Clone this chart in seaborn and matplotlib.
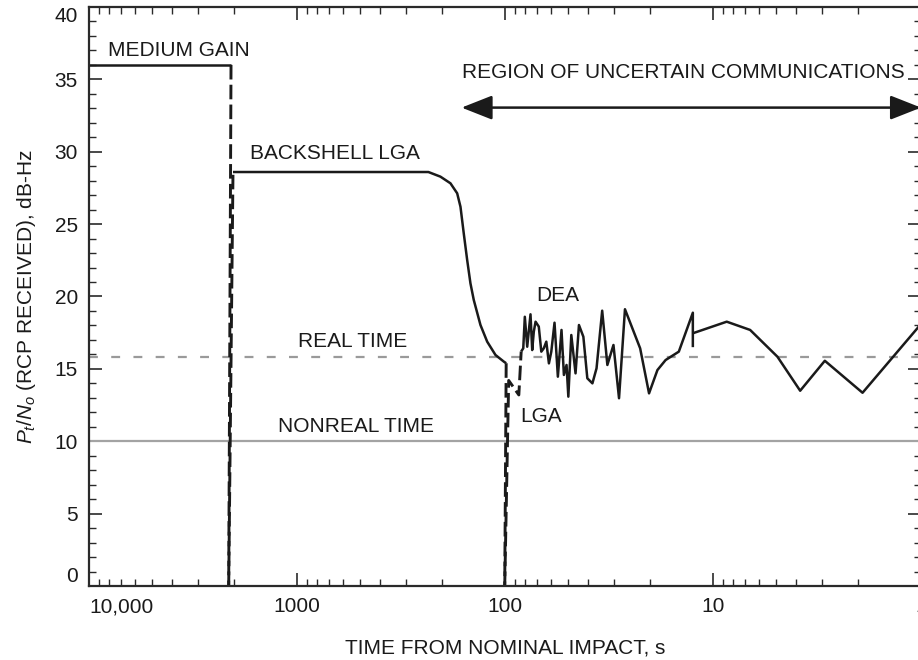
import matplotlib
matplotlib.use("Agg")
import matplotlib.pyplot as plt
import seaborn as sns
import pandas as pd
from matplotlib.ticker import MultipleLocator, LogLocator, NullFormatter
from matplotlib.patches import FancyArrowPatch

# ---------------- data ----------------
# Medium gain antenna
medium_t = [10000, 2076]
medium_v = [36.0, 36.0]
medium_drop_t = [2076, 2130]
medium_drop_v = [36.0, 0.0]

# Backshell LGA
backshell_rise_t = [2130, 2031]
backshell_rise_v = [0.0, 28.6]
backshell_t = [2031, 233.5, 204.4, 182.9, 169.8, 163.7, 157.9, 152.0, 146.6,
               141.3, 131.2, 121.8, 111.1, 101.3, 98.7]
backshell_v = [28.6, 28.6, 28.28, 27.82, 27.13, 26.2, 24.37, 22.52, 20.91,
               19.76, 18.03, 16.88, 15.96, 15.5, 15.39]
backshell_drop_t = [98.7, 100.3]
backshell_drop_v = [15.39, 0.0]

# LGA (dashed)
lga_t = [100.3, 96.0, 85.8, 83.6]
lga_v = [0.0, 14.2, 13.2, 16.2]

# DEA (solid), two segments
dea1_t = [83.6, 81.7, 80.3, 78.2, 75.4, 74.0, 72.7, 71.3, 68.8, 66.9, 65.1, 63.3,
          61.5, 59.9, 57.8, 55.7, 53.5, 52.1, 50.6, 49.6, 48.0, 45.8, 44.1, 42.0,
          40.2, 38.0, 36.3, 34.1, 32.2, 30.1, 28.3, 26.5, 22.4, 20.3, 18.5, 16.9,
          14.6, 12.5, 12.5]
dea1_v = [16.2, 16.42, 18.60, 16.53, 18.77, 16.30, 17.57, 18.26, 17.92, 16.19, 16.42,
          16.88, 15.38, 16.19, 18.19, 14.46, 17.69, 14.58, 15.27, 13.08, 17.34, 14.69,
          18.03, 17.22, 14.35, 14.00, 15.04, 19.02, 15.27, 16.65, 12.97, 19.12, 16.42,
          13.31, 14.92, 15.61, 16.19, 18.88, 16.5]
dea2_t = [12.5, 8.59, 6.63, 4.90, 3.81, 2.90, 1.91, 1.0]
dea2_v = [17.46, 18.26, 17.69, 15.84, 13.49, 15.56, 13.35, 18.1]

# thresholds
real_time_level = 15.85
nonreal_time_level = 10.0

# region of uncertain communications (arrow extent)
region_t = [161.7, 1.0]
region_v = 33.05

# ticks
x_ticks = [10000, 1000, 100, 10, 1]
x_tick_labels = ["10,000", "1000", "100", "10", "1"]
y_ticks = [0, 5, 10, 15, 20, 25, 30, 35, 40]

# ---------------- style ----------------
sns.set_theme(style="ticks")
plt.rcParams["font.family"] = ["Liberation Sans", "DejaVu Sans"]
plt.rcParams["mathtext.fontset"] = "custom"
plt.rcParams["mathtext.rm"] = "Liberation Sans"
plt.rcParams["mathtext.it"] = "Liberation Sans:italic"

BLACK = "#1a1a1a"
SPINE = "#2a2a2a"

fig = plt.figure(figsize=(9.18, 6.6), dpi=100)
ax = fig.add_axes([89 / 918, 74 / 660, 832 / 918, 579 / 660])
ax.set_xscale("log")


def draw(t, v, dashed=False, lw=1.8, color=BLACK):
    df = pd.DataFrame({"t": t, "v": v})
    sns.lineplot(data=df, x="t", y="v", sort=False, estimator=None, ax=ax,
                 color=color, lw=lw, legend=False)
    line = ax.lines[-1]
    line.set_solid_capstyle("butt")
    if dashed:
        line.set_dashes([5.0, 1.8])
        line.set_dash_capstyle("butt")
    return line


# reference levels
ax.axhline(nonreal_time_level, color="#a3a3a3", lw=1.6, zorder=1)
rl = ax.axhline(real_time_level, color="#9a9a9a", lw=1.6, zorder=1)
rl.set_dashes([4.0, 6.0])

draw(medium_t, medium_v)
draw(medium_drop_t, medium_drop_v, dashed=True, lw=2.1)
draw(backshell_rise_t, backshell_rise_v, dashed=True, lw=2.1)
draw(backshell_t, backshell_v)
draw(backshell_drop_t, backshell_drop_v, dashed=True, lw=2.1)
draw(lga_t, lga_v, dashed=True, lw=2.1)
draw(dea1_t, dea1_v)
draw(dea2_t, dea2_v)

# arrow
arrow = FancyArrowPatch((region_t[0], region_v), (region_t[1], region_v),
                        arrowstyle="<|-|>,head_length=19,head_width=7.5",
                        mutation_scale=1, lw=1.8, color=BLACK,
                        shrinkA=0, shrinkB=0)
ax.add_patch(arrow)

# annotations
fs = 15
ax.text(8103, 37.0, "MEDIUM GAIN", fontsize=fs, ha="left", va="center", color=BLACK)
ax.text(1682, 29.9, "BACKSHELL LGA", fontsize=fs, ha="left", va="center", color=BLACK)
ax.text(538, 16.9, "REAL TIME", fontsize=fs, ha="center", va="center", color=BLACK)
ax.text(520, 11.0, "NONREAL TIME", fontsize=fs, ha="center", va="center", color=BLACK)
ax.text(13.9, 35.5, "REGION OF UNCERTAIN COMMUNICATIONS", fontsize=fs,
        ha="center", va="center", color=BLACK)
ax.text(55.6, 20.1, "DEA", fontsize=fs, ha="center", va="center", color=BLACK)
ax.text(67.1, 11.7, "LGA", fontsize=fs, ha="center", va="center", color=BLACK)

# axes
ax.set_xlim(10000, 1)
ax.set_ylim(0, 40)
ax.set_xticks(x_ticks)
ax.set_xticklabels(x_tick_labels)
ax.xaxis.set_minor_locator(LogLocator(base=10, subs=range(2, 10), numticks=50))
ax.xaxis.set_minor_formatter(NullFormatter())
ax.set_yticks(y_ticks)
ax.yaxis.set_minor_locator(MultipleLocator(1))
ax.get_xticklabels()[0].set_horizontalalignment("left")
ylabels = ax.get_yticklabels()
ylabels[0].set_verticalalignment("bottom")
ylabels[-1].set_verticalalignment("top")

ax.tick_params(which="major", direction="in", length=9.5, width=1.2, top=True,
               right=True, labelsize=15, pad=8, color=SPINE, labelcolor=BLACK)
ax.tick_params(which="minor", direction="in", length=5, width=1.0, top=True,
               right=True, color=SPINE)
for s in ax.spines.values():
    s.set_linewidth(1.6)
    s.set_color(SPINE)

ax.set_xlabel("TIME FROM NOMINAL IMPACT, s", fontsize=15, labelpad=16, color=BLACK)
ax.set_ylabel(r"$P_t/N_o$ (RCP RECEIVED), dB-Hz", fontsize=15, labelpad=12, color=BLACK)
ax.grid(False)

fig.savefig("out.png", dpi=100)
